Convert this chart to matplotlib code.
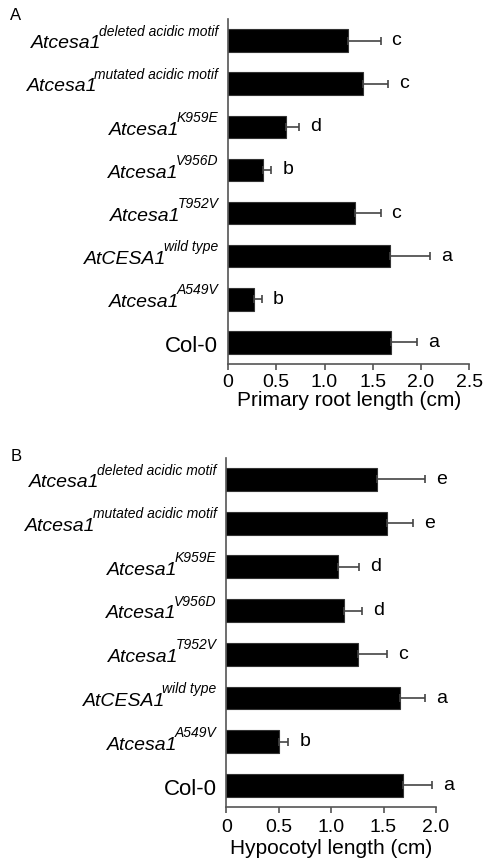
import matplotlib
matplotlib.use("Agg")
from matplotlib import pyplot as plt
from matplotlib import font_manager

plt.rcParams['font.family'] = ['Liberation Sans', 'DejaVu Sans']

installed = set(f.name for f in font_manager.fontManager.ttflist)
narrow = 'Liberation Sans Narrow' if 'Liberation Sans Narrow' in installed else None

# genotype labels, top to bottom (main part, superscript)
names_main = ['Atcesa1', 'Atcesa1', 'Atcesa1', 'Atcesa1', 'Atcesa1', 'AtCESA1', 'Atcesa1', 'Col-0']
names_sup = ['deleted acidic motif', 'mutated acidic motif', 'K959E', 'V956D', 'T952V',
             'wild type', 'A549V', '']

root = [1.24, 1.40, 0.60, 0.36, 1.32, 1.68, 0.27, 1.69]
root_err = [0.34, 0.26, 0.14, 0.09, 0.26, 0.41, 0.08, 0.27]
root_letters = ['c', 'c', 'd', 'b', 'c', 'a', 'b', 'a']
root_ticks = [0, 0.5, 1.0, 1.5, 2.0, 2.5]
root_ticklabels = ['0', '0.5', '1.0', '1.5', '2.0', '2.5']

hypo = [1.44, 1.53, 1.07, 1.12, 1.26, 1.66, 0.50, 1.69]
hypo_err = [0.46, 0.25, 0.20, 0.17, 0.27, 0.24, 0.09, 0.27]
hypo_letters = ['e', 'e', 'd', 'd', 'c', 'a', 'b', 'a']
hypo_ticks = [0, 0.5, 1.0, 1.5, 2.0]
hypo_ticklabels = ['0', '0.5', '1.0', '1.5', '2.0']

fig = plt.figure(figsize=(4.88, 8.63), dpi=100)
axA = fig.add_axes([0.4672, 0.5782, 0.4945, 0.3998])
axB = fig.add_axes([0.4637, 0.0645, 0.4297, 0.4053])

if narrow:
    lab_font = [narrow, 'Liberation Sans']
    main_size, sup_size = 17, 12.2
else:
    lab_font = ['Liberation Sans']
    main_size, sup_size = 14, 10


def draw(ax, vals, errs, letters, ticks, ticklabels, xlabel, xmax, tpad, lpad):
    pos = list(range(len(vals)))
    ax.barh(pos, vals, height=0.52, color='black', edgecolor='#333333', linewidth=0.8)
    ax.errorbar(vals, pos, xerr=[[0] * len(vals), errs], fmt='none',
                ecolor='#444444', elinewidth=1.2, capsize=3, capthick=1.2)
    for i in range(len(vals)):
        ax.annotate(letters[i], (vals[i] + errs[i], pos[i]), xytext=(8, 0),
                    textcoords='offset points', va='center', ha='left', fontsize=14)
    # y labels: italic name with superscript allele
    for i in range(len(vals)):
        if names_sup[i] == '':
            ax.annotate(names_main[i], (0, pos[i]), xycoords=('axes fraction', 'data'),
                        xytext=(-7, -7), textcoords='offset points',
                        ha='right', va='baseline', fontsize=16)
            continue
        sup = ax.annotate(names_sup[i], (0, pos[i]), xycoords=('axes fraction', 'data'),
                          xytext=(-7, 3.5), textcoords='offset points', ha='right',
                          va='baseline', fontsize=sup_size, style='italic', family=lab_font)
        ax.annotate(names_main[i], (0, pos[i]), xycoords=(sup, 'data'),
                    xytext=(2, -5.6), textcoords='offset points', ha='right',
                    va='baseline', fontsize=main_size, style='italic', family=lab_font)
    ax.set_ylim(7.5, -0.5)
    ax.set_xlim(0, xmax)
    ax.set_yticks([])
    ax.set_xticks(ticks)
    ax.set_xticklabels(ticklabels, fontsize=14)
    ax.tick_params(axis='x', length=4, width=1.2, color='#555555', pad=tpad)
    ax.set_xlabel(xlabel, fontsize=15, labelpad=lpad)
    for s in ['top', 'right']:
        ax.spines[s].set_visible(False)
    for s in ['left', 'bottom']:
        ax.spines[s].set_color('#555555')
        ax.spines[s].set_linewidth(1.2)


draw(axA, root, root_err, root_letters, root_ticks, root_ticklabels,
     'Primary root length (cm)', 2.5, 3, 0)
draw(axB, hypo, hypo_err, hypo_letters, hypo_ticks, hypo_ticklabels,
     'Hypocotyl length (cm)', 2.0, 4.5, 2)

fig.text(10 / 488, 1 - 20 / 863, 'A', fontsize=12)
fig.text(11 / 488, 1 - 461 / 863, 'B', fontsize=12)

fig.savefig('out.png', dpi=100)
